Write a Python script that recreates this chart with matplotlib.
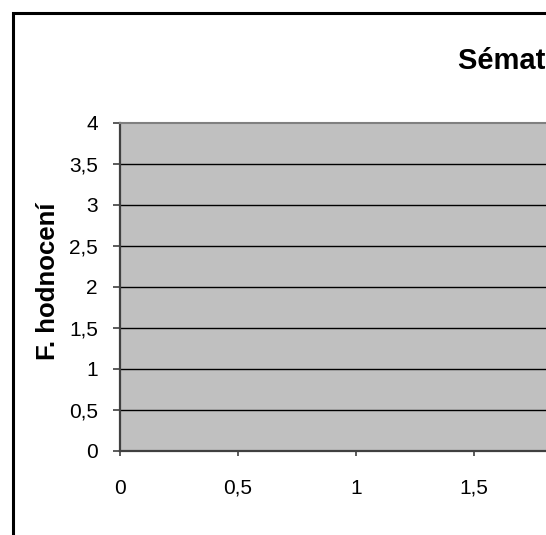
import matplotlib
matplotlib.use("Agg")
import matplotlib.pyplot as plt
from matplotlib.patches import Rectangle
from matplotlib.ticker import FuncFormatter

plt.rcParams['font.family'] = ['Liberation Sans', 'DejaVu Sans']

# Axis scales and labels
title_text = "Sématické hodnocení"
y_label = "F. hodnocení"
y_ticks = [0, 0.5, 1, 1.5, 2, 2.5, 3, 3.5, 4]
x_ticks = [0, 0.5, 1, 1.5]
x_range = (0, 2.5)
y_range = (0, 4)

W, H = 546, 535
fig = plt.figure(figsize=(W / 100, H / 100), dpi=100)
fig.patch.set_facecolor("white")

# Outer chart frame (continues past the right and bottom edges)
fig.patches.append(Rectangle((13 / W, -0.2), 1.5, 1 - 13 / H + 0.2,
                             transform=fig.transFigure, fill=False,
                             edgecolor="black", linewidth=2.2, clip_on=False))

# Plot area: 0..0.5 spans about 118 px horizontally
left_px, top_px, bottom_px = 120, 123, 451
px_per_unit = 236
width_px = (x_range[1] - x_range[0]) * px_per_unit
ax = fig.add_axes([left_px / W, 1 - bottom_px / H,
                   width_px / W, (bottom_px - top_px) / H])
ax.set_facecolor("#C0C0C0")
ax.set_xlim(*x_range)
ax.set_ylim(*y_range)

for y in y_ticks[1:-1]:
    ax.axhline(y, color="black", linewidth=1.0, zorder=1)

ax.spines["top"].set_color("#808080")
ax.spines["top"].set_linewidth(1.5)
ax.spines["right"].set_visible(False)
ax.spines["left"].set_color("#404040")
ax.spines["left"].set_linewidth(1.6)
ax.spines["bottom"].set_color("#404040")
ax.spines["bottom"].set_linewidth(1.6)

comma = FuncFormatter(lambda v, p: f"{v:g}".replace(".", ","))
ax.set_yticks(y_ticks)
ax.set_xticks(x_ticks)
ax.yaxis.set_major_formatter(comma)
ax.xaxis.set_major_formatter(comma)
ax.tick_params(axis="y", direction="out", length=5, width=1.2, color="#404040",
               labelsize=15, pad=11)
ax.tick_params(axis="x", direction="out", length=3.5, width=1.2, color="#404040",
               labelsize=15, pad=16.5)

fig.text(48 / W, 1 - 281 / H, y_label, rotation=90, fontsize=18.5,
         fontweight="bold", ha="center", va="center")
fig.text(458 / W, 1 - 69 / H, title_text, fontsize=21, fontweight="bold",
         ha="left", va="baseline")

fig.savefig("out.png", dpi=100)
